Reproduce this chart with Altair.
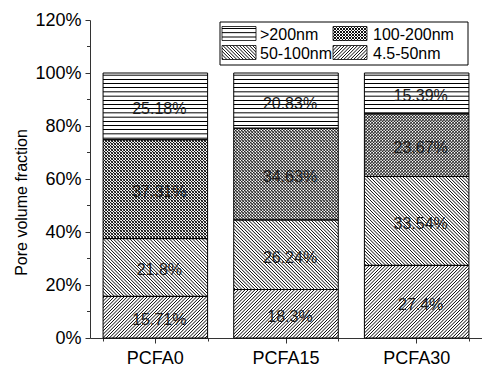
import altair as alt

categories = ["PCFA0", "PCFA15", "PCFA30"]
classes = ["4.5-50nm", "50-100nm", "100-200nm", ">200nm"]  # bottom to top
v_4_5_50 = [15.71, 18.3, 27.4]
v_50_100 = [21.8, 26.24, 33.54]
v_100_200 = [37.31, 34.63, 23.67]
v_gt200 = [25.18, 20.83, 15.39]
series = [v_4_5_50, v_50_100, v_100_200, v_gt200]
y_ticks = [0, 0.2, 0.4, 0.6, 0.8, 1.0, 1.2]
y_minor = [0.1, 0.3, 0.5, 0.7, 0.9, 1.1]

# ---------- layout / style ----------
W, H = 392, 318
YMAX = 1.2
FONT = "Liberation Sans"
BAR_W = W / 3 * 0.8


def stops(span, period, core, ramp, line, bg):
    """Soft-edged stripes along a gradient whose full length is `span` px-units."""
    out = []
    k = 0
    while k * period < span:
        base = k * period
        c = period / 2
        pts = [(0, bg), (c - core / 2 - ramp, bg), (c - core / 2, line),
               (c + core / 2, line), (c + core / 2 + ramp, bg), (period, bg)]
        for u, col in pts:
            off = (base + u) / span
            if off <= 1:
                out.append({"offset": round(off, 5), "color": col})
        k += 1
    return out


def horiz(w, h, period=4.2, core=0.45, ramp=0.55, line="black", bg="white"):
    return {"gradient": "linear", "x1": 0, "y1": 0, "x2": 0, "y2": 1,
            "stops": stops(h, period, core, ramp, line, bg)}


def diag_up(w, h, period=3.3, core=0.2, ramp=0.85, line="#111", bg="white"):
    # "/" stripes
    s = (w + h) / (w * w + h * h)
    return {"gradient": "linear", "x1": 0, "y1": 0, "x2": w * s, "y2": h * s,
            "stops": stops(w + h, period, core, ramp, line, bg)}


def diag_down(w, h, period=3.3, core=0.2, ramp=0.85, line="#111", bg="white"):
    # "\" stripes
    s = (w + h) / (w * w + h * h)
    return {"gradient": "linear", "x1": 0, "y1": 1, "x2": w * s, "y2": 1 - h * s,
            "stops": stops(w + h, period, core, ramp, line, bg)}


CROSS = dict(period=3.0, core=0.25, ramp=0.7)


def base_fill(cls, w, h):
    if cls == ">200nm":
        return horiz(w, h)
    if cls == "50-100nm":
        return diag_down(w, h)
    if cls == "4.5-50nm":
        return diag_up(w, h)
    return diag_up(w, h, **CROSS)


def over_fill(w, h):
    return diag_down(w, h, bg="rgba(0,0,0,0)", **CROSS)


rows, over_rows = [], []
for ci, cat in enumerate(categories):
    acc = 0.0
    for k, cls in enumerate(classes):
        v = series[k][ci]
        y0 = acc / 100
        acc += v
        y1 = acc / 100
        h = (y1 - y0) / YMAX * H
        r = {"cat": cat, "cls": cls, "y0": y0, "y1": y1, "ym": (y0 + y1) / 2,
             "label": f"{v}%", "g": base_fill(cls, BAR_W, h)}
        rows.append(r)
        if cls == "100-200nm":
            over_rows.append({"cat": cat, "y0": y0, "y1": y1, "g2": over_fill(BAR_W, h)})

YT = "Pore volume fraction"
xscale = alt.Scale(domain=categories, paddingInner=0.2, paddingOuter=0.1)
yscale = alt.Scale(domain=[0, YMAX], nice=False)

bars = alt.Chart(alt.Data(values=rows)).mark_bar(strokeWidth=0).encode(
    x=alt.X("cat:N", sort=categories, scale=xscale,
            axis=alt.Axis(orient="bottom", labelFontSize=18, tickSize=5, labelPadding=6,
                          labelAngle=0, title=None, domainColor="#333", tickColor="#333")),
    y=alt.Y("y0:Q", scale=yscale,
            axis=alt.Axis(values=y_ticks, format=".0%", labelFontSize=18, tickSize=5,
                          labelPadding=4, title=YT, titleFontSize=16,
                          titleFontWeight="normal", titleX=-64, titleY=182,
                          titleBaseline="alphabetic", domainColor="#333", tickColor="#333")),
    y2="y1:Q",
    fill=alt.Fill("g:N", scale=None),
)

overlay = alt.Chart(alt.Data(values=over_rows)).mark_bar(strokeWidth=0).encode(
    x=alt.X("cat:N", sort=categories, scale=xscale, axis=None),
    y=alt.Y("y0:Q", scale=yscale, title=YT),
    y2="y1:Q",
    fill=alt.Fill("g2:N", scale=None),
)

outline = alt.Chart(alt.Data(values=rows)).mark_bar(fillOpacity=0, stroke="black", strokeWidth=1).encode(
    x=alt.X("cat:N", sort=categories, scale=xscale, axis=None),
    y=alt.Y("y0:Q", scale=yscale, title=YT),
    y2="y1:Q",
)

minor_x = alt.Chart(alt.Data(values=[{"cat": c} for c in categories])).mark_tick(opacity=0).encode(
    x=alt.X("cat:N", sort=categories, scale=xscale,
            axis=alt.Axis(orient="bottom", tickBand="extent", labels=False, domain=False,
                          tickSize=3, title=None, tickColor="#333")),
)

texts = alt.Chart(alt.Data(values=rows)).mark_text(
    font=FONT, fontSize=16, color="#1a1a1a", dx=4, dy=3, baseline="middle").encode(
    x=alt.X("cat:N", sort=categories, scale=xscale, axis=None),
    y=alt.Y("ym:Q", scale=yscale, title=YT),
    text="label:N",
)

minor_y = alt.Chart(alt.Data(values=[{"m": m} for m in y_minor])).mark_rule(color="#333").encode(
    y=alt.Y("m:Q", scale=yscale, title=YT),
    x=alt.value(-3), x2=alt.value(0),
)

# ---------- legend ----------
PX, PY = 90, 20
SW, SH = 34, 14
leg_items = [
    (">200nm", horiz(SW, SH), None, 222, 26.5, 260, 39.5),
    ("100-200nm", diag_up(SW, SH, **CROSS), over_fill(SW, SH), 333, 26.5, 373, 39.5),
    ("50-100nm", diag_down(SW, SH), None, 222, 45.5, 260, 58.5),
    ("4.5-50nm", diag_up(SW, SH), None, 333, 45.5, 373, 58.5),
]
one = alt.Data(values=[{"a": 1}])
legend_layers = [
    alt.Chart(one).mark_rect(fill="white", stroke="black", strokeWidth=1).encode(
        x=alt.value(220 - PX), x2=alt.value(468 - PX), y=alt.value(22 - PY), y2=alt.value(65 - PY))
]
for name, g, g2, sx, sy, tx, ty in leg_items:
    legend_layers.append(alt.Chart(one).mark_rect(strokeWidth=0).encode(
        x=alt.value(sx - PX), x2=alt.value(sx + SW - PX), y=alt.value(sy - PY), y2=alt.value(sy + SH - PY),
        fill=alt.value(g)))
    if g2 is not None:
        legend_layers.append(alt.Chart(one).mark_rect(strokeWidth=0).encode(
            x=alt.value(sx - PX), x2=alt.value(sx + SW - PX), y=alt.value(sy - PY), y2=alt.value(sy + SH - PY),
            fill=alt.value(g2)))
    legend_layers.append(alt.Chart(one).mark_rect(fillOpacity=0, stroke="black", strokeWidth=0.8).encode(
        x=alt.value(sx - PX), x2=alt.value(sx + SW - PX), y=alt.value(sy - PY), y2=alt.value(sy + SH - PY)))
    legend_layers.append(alt.Chart(one).mark_text(
        font=FONT, fontSize=16, color="black", align="left", baseline="alphabetic", text=name).encode(
        x=alt.value(tx - PX), y=alt.value(ty - PY)))

chart = alt.layer(bars, overlay, outline, minor_x, texts, minor_y, *legend_layers).resolve_axis(
    x="independent"
).properties(
    width=W, height=H, autosize="none",
    padding={"left": 82, "top": 12, "right": 0, "bottom": 30},
).configure_view(stroke=None).configure_axis(
    labelFont=FONT, titleFont=FONT, labelColor="black", titleColor="black", grid=False
)

chart.save("out.html", embed_options={"renderer": "svg", "actions": False})
